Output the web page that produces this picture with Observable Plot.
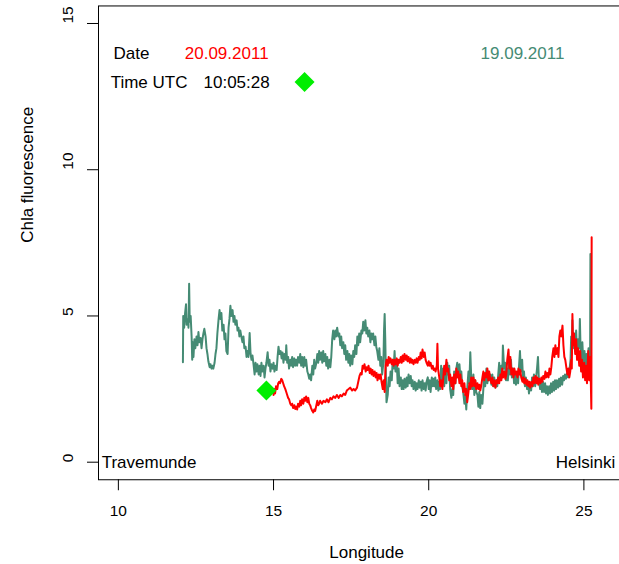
<!DOCTYPE html>
<html>
<head>
<meta charset="utf-8">
<script src="https://cdn.jsdelivr.net/npm/d3@7"></script>
<script src="https://cdn.jsdelivr.net/npm/@observablehq/plot@0.6"></script>
<style>
  html, body { margin: 0; padding: 0; background: white; overflow: hidden; }
  #chart svg { display: block; max-width: none !important; width: 640px !important; height: 564px !important; }
</style>
</head>
<body>
<div id="chart"></div>
<script>
// Axis limits (R style, 4% expanded) and ticks
const xLimits = [9.36, 26.64];
const yLimits = [-0.6, 15.6];
const xTicks = [10, 15, 20, 25];
const yTicks = [0, 5, 10, 15];

// 19.09.2011 track (longitude, Chla fluorescence)
const track19 = [
[12.08,3.42],[12.09,5.0],[12.12,4.6],[12.15,5.1],[12.18,5.4],[12.20,4.7],[12.24,4.9],[12.26,4.6],[12.28,6.1],[12.30,4.8],
[12.33,5.0],[12.36,4.3],[12.38,3.5],[12.40,4.1],[12.42,3.6],[12.45,4.2],[12.48,3.9],[12.52,4.3],[12.55,4.0],[12.58,4.45],
[12.61,4.1],[12.65,4.25],[12.68,3.9],[12.71,4.2],[12.74,4.4],[12.77,4.56],[12.81,4.3],[12.84,3.9],[12.87,3.7],[12.90,3.45],
[12.94,3.25],[12.97,3.35],[13.00,3.2],[13.03,3.3],[13.06,3.2],[13.10,3.4],[13.13,3.7],[13.16,3.9],[13.19,4.4],[13.23,4.9],
[13.26,5.2],[13.29,4.9],[13.32,5.1],[13.35,4.5],[13.39,4.7],[13.42,4.2],[13.45,4.4],[13.48,3.8],[13.52,3.7],[13.55,4.6],
[13.58,4.9],[13.61,5.35],[13.64,5.0],[13.68,5.2],[13.71,4.8],[13.74,5.0],[13.77,4.7],[13.81,4.85],[13.84,4.5],[13.87,4.6],
[13.90,4.3],[13.93,4.5],[13.97,4.25],[14.00,4.1],[14.03,4.3],[14.06,3.9],[14.10,3.95],[14.13,3.6],[14.16,3.8],[14.19,3.6],
[14.23,4.42],[14.26,3.7],[14.29,3.5],[14.32,3.65],[14.35,3.4],[14.39,3.0],[14.42,3.4],[14.45,3.1],[14.48,3.35],[14.52,3.0],
[14.55,3.3],[14.58,2.95],[14.61,3.4],[14.64,3.1],[14.68,3.3],[14.71,2.9],[14.74,3.2],[14.77,3.4],[14.81,3.76],[14.84,3.3],
[14.87,3.5],[14.90,3.1],[14.93,3.35],[14.97,3.2],[15.00,3.4],[15.03,3.1],[15.06,3.3],[15.10,3.15],[15.13,3.6],[15.16,3.95],
[15.19,3.7],[15.23,3.8],[15.26,3.55],[15.29,3.75],[15.32,3.4],[15.35,3.7],[15.39,3.5],[15.41,4.0],[15.44,3.4],[15.47,3.6],
[15.50,3.2],[15.54,3.5],[15.57,3.3],[15.60,3.6],[15.63,3.25],[15.67,3.55],[15.70,3.3],[15.73,3.5],[15.76,3.3],[15.79,3.6],
[15.83,3.4],[15.86,3.7],[15.89,3.3],[15.92,3.6],[15.96,3.25],[15.99,3.6],[16.02,3.3],[16.05,3.5],[16.09,3.1],[16.12,3.0],
[16.15,2.85],[16.18,3.0],[16.21,2.8],[16.25,3.3],[16.28,3.0],[16.31,3.5],[16.34,3.2],[16.38,3.4],[16.41,3.7],[16.44,3.4],
[16.47,3.8],[16.50,3.5],[16.54,3.75],[16.57,3.4],[16.60,3.8],[16.63,3.45],[16.67,3.7],[16.70,3.3],[16.73,3.6],[16.76,3.2],
[16.80,3.5],[16.83,3.25],[16.86,3.6],[16.89,4.2],[16.92,4.5],[16.96,4.2],[16.99,4.5],[17.02,4.3],[17.05,4.6],[17.09,4.3],
[17.12,4.4],[17.15,4.0],[17.18,4.3],[17.21,3.9],[17.25,4.1],[17.28,3.7],[17.31,4.0],[17.34,3.5],[17.38,3.8],[17.41,3.4],
[17.44,3.7],[17.47,3.3],[17.50,3.65],[17.54,3.35],[17.57,3.8],[17.60,3.6],[17.63,4.0],[17.67,3.7],[17.70,4.3],[17.73,4.0],
[17.76,4.4],[17.79,4.1],[17.83,4.5],[17.86,4.4],[17.89,4.8],[17.92,4.5],[17.96,4.85],[17.99,4.4],[18.02,4.6],[18.05,4.3],
[18.09,4.5],[18.12,4.1],[18.15,4.4],[18.18,4.2],[18.21,4.4],[18.25,4.0],[18.28,4.3],[18.31,3.95],[18.34,3.8],[18.38,3.5],
[18.41,3.9],[18.44,3.3],[18.47,3.6],[18.50,3.0],[18.54,3.4],[18.56,4.5],[18.58,5.07],[18.60,4.2],[18.62,3.0],[18.64,2.05],
[18.68,2.3],[18.71,2.9],[18.74,2.6],[18.77,3.1],[18.81,2.8],[18.84,3.5],[18.87,3.2],[18.90,3.8],[18.93,3.1],[18.97,3.4],
[19.00,2.7],[19.03,3.2],[19.06,2.6],[19.10,2.9],[19.13,2.5],[19.16,2.8],[19.19,2.5],[19.22,2.85],[19.26,2.55],[19.29,2.9],
[19.32,2.6],[19.35,3.0],[19.39,2.7],[19.42,2.95],[19.45,2.6],[19.48,2.8],[19.51,2.5],[19.55,2.75],[19.58,2.45],[19.61,2.7],
[19.64,2.5],[19.68,2.8],[19.71,2.55],[19.74,2.75],[19.77,2.45],[19.80,2.8],[19.84,2.5],[19.87,2.7],[19.90,2.45],[19.93,2.75],
[19.97,2.9],[20.00,2.5],[20.03,2.8],[20.06,2.4],[20.10,2.9],[20.13,2.6],[20.16,2.85],[20.18,2.6],[20.21,2.9],[20.24,2.5],
[20.28,2.8],[20.31,2.45],[20.34,2.75],[20.37,2.5],[20.40,3.3],[20.44,2.8],[20.47,3.2],[20.50,2.6],[20.53,3.1],[20.57,2.7],
[20.60,3.4],[20.63,3.0],[20.66,3.3],[20.69,2.5],[20.73,2.2],[20.76,2.5],[20.79,2.3],[20.82,3.1],[20.86,2.7],[20.89,3.2],
[20.92,3.4],[20.95,3.0],[20.99,3.35],[21.02,2.9],[21.05,3.1],[21.08,2.6],[21.11,2.4],[21.15,2.0],[21.18,2.3],[21.21,1.8],
[21.24,2.5],[21.28,3.1],[21.31,2.7],[21.34,3.76],[21.37,2.9],[21.40,2.5],[21.44,3.0],[21.47,2.3],[21.50,2.8],[21.53,2.4],
[21.57,2.3],[21.60,1.9],[21.63,2.4],[21.66,1.85],[21.69,2.3],[21.73,2.0],[21.76,2.5],[21.79,3.0],[21.82,2.6],[21.86,3.2],
[21.89,2.7],[21.92,3.1],[21.95,2.8],[21.98,3.0],[22.02,2.65],[22.05,3.0],[22.08,2.6],[22.11,2.9],[22.15,2.55],[22.18,2.8],
[22.21,2.6],[22.24,3.0],[22.27,3.4],[22.31,2.9],[22.34,3.3],[22.37,3.0],[22.39,3.99],[22.43,3.2],[22.46,3.4],[22.49,2.8],
[22.52,3.2],[22.55,2.8],[22.59,3.4],[22.62,3.0],[22.65,3.5],[22.68,2.9],[22.72,3.2],[22.75,2.7],[22.78,3.0],[22.81,2.65],
[22.84,3.0],[22.88,2.7],[22.91,3.3],[22.94,3.8],[22.97,3.1],[23.01,3.5],[23.04,2.8],[23.07,3.1],[23.10,2.6],[23.13,2.9],
[23.17,2.5],[23.20,2.75],[23.23,2.35],[23.26,2.7],[23.30,2.45],[23.33,2.9],[23.36,2.6],[23.39,3.0],[23.43,2.6],[23.46,2.9],
[23.49,3.2],[23.52,3.6],[23.55,2.8],[23.59,2.5],[23.62,2.8],[23.65,2.4],[23.68,2.75],[23.72,2.4],[23.75,2.7],[23.78,2.35],
[23.81,2.6],[23.84,2.3],[23.88,2.6],[23.91,2.35],[23.94,2.7],[23.97,2.4],[24.01,2.75],[24.04,2.45],[24.07,2.8],[24.10,2.5],
[24.13,2.8],[24.17,2.55],[24.20,2.85],[24.23,2.6],[24.26,2.9],[24.30,2.65],[24.33,2.95],[24.36,2.8],[24.39,3.0],[24.42,2.85],
[24.46,3.05],[24.49,2.9],[24.52,3.0],[24.57,3.5],[24.59,4.3],[24.61,3.7],[24.63,4.85],[24.65,3.9],[24.68,4.4],[24.72,3.8],
[24.75,4.5],[24.78,3.7],[24.81,4.2],[24.85,3.9],[24.87,4.9],[24.89,4.0],[24.92,3.4],[24.95,4.1],[24.99,3.2],[25.02,3.8],
[25.05,3.0],[25.08,3.7],[25.11,3.2],[25.15,3.9],[25.18,3.1],[25.20,3.6],[25.21,7.12],[25.22,3.0]
];

// 20.09.2011 track (longitude, Chla fluorescence)
const track20 = [
[15.00,2.3],[15.02,2.5],[15.05,2.35],[15.08,2.6],[15.12,2.5],[15.15,2.7],[15.18,2.75],[15.21,2.7],[15.25,2.85],[15.28,2.8],
[15.31,2.7],[15.34,2.6],[15.38,2.5],[15.41,2.4],[15.44,2.3],[15.47,2.2],[15.50,2.15],[15.54,2.0],[15.57,1.95],[15.60,2.0],
[15.63,1.85],[15.67,1.95],[15.70,1.82],[15.73,1.9],[15.76,1.8],[15.79,2.0],[15.83,1.9],[15.86,2.1],[15.89,1.95],[15.92,2.15],
[15.96,2.0],[15.99,2.2],[16.02,2.1],[16.05,2.25],[16.09,2.05],[16.12,2.2],[16.15,2.0],[16.18,1.95],[16.21,1.85],[16.25,1.75],
[16.28,1.7],[16.31,1.8],[16.34,1.75],[16.38,1.95],[16.41,2.1],[16.44,1.95],[16.47,2.0],[16.50,2.1],[16.56,2.0],[16.61,2.1],
[16.67,2.05],[16.72,2.15],[16.77,2.05],[16.83,2.2],[16.88,2.15],[16.93,2.25],[16.99,2.2],[17.04,2.3],[17.10,2.2],[17.15,2.3],
[17.20,2.25],[17.26,2.35],[17.31,2.3],[17.36,2.45],[17.42,2.5],[17.47,2.55],[17.53,2.45],[17.58,2.5],[17.63,2.45],[17.69,2.55],
[17.74,2.8],[17.77,2.95],[17.81,3.05],[17.84,3.0],[17.87,3.3],[17.90,3.2],[17.93,3.35],[17.97,3.1],[18.00,3.25],[18.03,3.15],
[18.06,3.3],[18.10,3.05],[18.13,3.2],[18.16,3.0],[18.19,3.15],[18.22,2.95],[18.26,3.1],[18.29,2.9],[18.32,3.05],[18.35,2.8],
[18.39,3.0],[18.42,2.85],[18.45,3.0],[18.48,2.75],[18.52,2.5],[18.55,2.8],[18.58,2.4],[18.61,3.3],[18.64,3.5],[18.68,3.3],
[18.71,3.6],[18.74,3.4],[18.77,3.55],[18.81,3.35],[18.84,3.5],[18.87,3.3],[18.90,3.5],[18.93,3.35],[18.97,3.55],[19.00,3.3],
[19.03,3.5],[19.06,3.4],[19.10,3.6],[19.13,3.4],[19.16,3.65],[19.19,3.45],[19.22,3.7],[19.26,3.5],[19.29,3.65],[19.32,3.45],
[19.35,3.6],[19.39,3.4],[19.42,3.55],[19.45,3.4],[19.48,3.5],[19.51,3.35],[19.55,3.5],[19.58,3.4],[19.61,3.55],[19.64,3.4],
[19.68,3.6],[19.71,3.5],[19.74,3.75],[19.77,3.55],[19.80,3.85],[19.84,3.6],[19.87,3.75],[19.90,3.5],[19.93,3.4],[19.97,3.3],
[20.00,3.45],[20.03,3.3],[20.06,3.4],[20.10,3.2],[20.13,3.3],[20.16,3.15],[20.19,3.2],[20.22,3.1],[20.26,3.3],[20.28,4.05],
[20.30,3.2],[20.34,2.9],[20.37,2.6],[20.40,2.8],[20.44,2.5],[20.47,2.9],[20.50,3.3],[20.53,3.0],[20.57,3.5],[20.60,3.1],
[20.63,3.2],[20.66,2.8],[20.69,3.0],[20.73,2.6],[20.76,2.9],[20.79,2.5],[20.82,3.0],[20.86,2.7],[20.89,3.2],[20.92,2.9],
[20.95,3.1],[20.99,2.7],[21.02,3.0],[21.05,2.6],[21.08,2.8],[21.11,2.4],[21.15,2.7],[21.18,2.3],[21.21,2.5],[21.24,2.05],
[21.28,2.4],[21.31,2.7],[21.34,2.5],[21.37,2.9],[21.40,2.6],[21.44,2.9],[21.47,2.6],[21.50,2.8],[21.53,2.5],[21.57,2.7],
[21.60,2.5],[21.63,2.65],[21.66,2.45],[21.69,2.6],[21.73,2.9],[21.76,3.1],[21.79,2.8],[21.82,3.05],[21.86,2.9],[21.89,3.2],
[21.92,2.8],[21.95,3.1],[21.98,2.85],[22.02,2.7],[22.05,2.9],[22.08,2.6],[22.11,2.8],[22.15,2.55],[22.18,2.8],[22.21,2.7],
[22.24,2.9],[22.27,2.7],[22.31,3.0],[22.34,2.8],[22.37,3.2],[22.40,2.9],[22.44,3.1],[22.47,2.85],[22.50,3.0],[22.53,3.5],
[22.57,3.85],[22.60,3.2],[22.63,3.6],[22.66,3.0],[22.69,3.2],[22.73,2.9],[22.76,3.2],[22.79,3.0],[22.82,3.1],[22.86,2.9],
[22.89,3.2],[22.92,3.0],[22.95,3.15],[22.98,2.9],[23.02,2.75],[23.05,2.9],[23.08,2.7],[23.11,2.85],[23.15,2.65],[23.18,2.8],
[23.21,2.6],[23.24,2.75],[23.27,2.55],[23.31,2.75],[23.34,2.6],[23.37,2.9],[23.40,2.7],[23.44,2.95],[23.47,2.7],[23.50,2.9],
[23.53,2.65],[23.56,2.85],[23.60,2.7],[23.63,2.9],[23.66,2.75],[23.69,2.95],[23.73,2.85],[23.76,3.1],[23.79,2.9],[23.82,3.05],
[23.86,2.9],[23.89,3.2],[23.92,3.0],[23.95,3.25],[23.98,3.6],[24.02,3.9],[24.05,3.6],[24.08,4.0],[24.11,3.7],[24.15,3.9],
[24.18,3.6],[24.21,4.3],[24.24,4.5],[24.27,4.3],[24.31,4.67],[24.34,4.0],[24.37,3.6],[24.40,3.5],[24.44,3.2],[24.47,3.0],
[24.50,3.2],[24.53,2.9],[24.56,3.1],[24.59,3.5],[24.61,3.2],[24.63,5.07],[24.65,4.0],[24.68,4.4],[24.72,3.7],[24.75,4.2],
[24.78,3.5],[24.81,3.9],[24.85,3.3],[24.88,3.8],[24.91,3.1],[24.94,3.5],[24.97,2.9],[25.01,3.4],[25.04,2.8],[25.07,3.3],
[25.10,2.7],[25.14,3.8],[25.17,2.8],[25.20,3.6],[25.22,2.9],[25.24,1.83],[25.25,7.69]
];

// Position markers (green diamonds)
const markerLon = [16, 14.77];
const markerChl = [13, 2.45];

// Annotation texts
const noteText = ["Date", "20.09.2011", "19.09.2011", "Time UTC", "10:05:28", "Travemunde", "Helsinki"];
const noteLon  = [10.42, 13.49, 23.02, 10.99, 13.81, 10.99, 25.05];
const noteChl  = [13.97, 13.97, 13.97, 12.98, 12.98, 0, 0];
const noteColor = ["black", "#FF0000", "#458B74", "black", "black", "black", "black"];

const yTitle = "Chla fluorescence";
const xTitle = "Longitude";

const notes = noteText.map((t, i) => ({t, lon: noteLon[i], chl: noteChl[i], c: noteColor[i]}));
const markers = markerLon.map((lon, i) => ({lon, chl: markerChl[i]}));

const chart = Plot.plot({
  width: 640,
  height: 564,
  marginLeft: 98,
  marginRight: 5.7,
  marginTop: 5.45,
  marginBottom: 84.75,
  x: {domain: xLimits},
  y: {domain: yLimits},
  style: {fontFamily: "'Liberation Sans', Arial, sans-serif", fontSize: "15.5px", background: "white", color: "black", maxWidth: "none"},
  marks: [
    Plot.frame({stroke: "black", strokeWidth: 1}),
    Plot.axisX({ticks: xTicks, tickSize: 11, tickFormat: () => "", label: null, stroke: "black"}),
    Plot.axisY({ticks: yTicks, tickSize: 11, tickFormat: () => "", label: null, stroke: "black"}),
    Plot.text(xTicks, {x: d => d, frameAnchor: "bottom", dy: 36.5, text: d => String(d), fill: "black", fontSize: 15.5}),
    Plot.text(yTicks, {y: d => d, frameAnchor: "left", dx: -30, rotate: -90, text: d => String(d), fill: "black", fontSize: 15.5}),
    Plot.text([xTitle], {frameAnchor: "bottom", dy: 78.5, text: d => d, fill: "black", fontSize: 17}),
    Plot.text([yTitle], {frameAnchor: "left", dx: -71.3, rotate: -90, text: d => d, fill: "black", fontSize: 17}),
    Plot.line(track19, {x: d => d[0], y: d => d[1], stroke: "#458B74", strokeWidth: 2}),
    Plot.line(track20, {x: d => d[0], y: d => d[1], stroke: "#FF0000", strokeWidth: 2}),
    Plot.dot(markers, {x: "lon", y: "chl", symbol: "diamond2", r: 9, fill: "#00EE00", stroke: "none"}),
    Plot.text(notes, {x: "lon", y: "chl", text: "t", fill: "c", fontSize: 17})
  ]
});
document.getElementById("chart").append(chart);
</script>
</body>
</html>
